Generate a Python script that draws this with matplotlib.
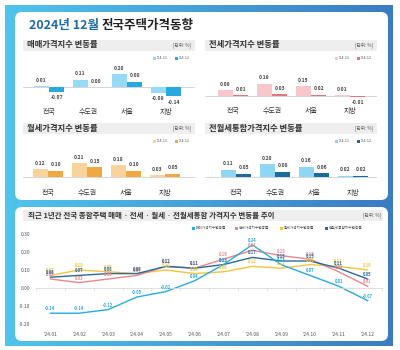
import numpy as np
import matplotlib
matplotlib.use('Agg')
import matplotlib.pyplot as plt
import matplotlib.transforms as mtransforms
from matplotlib.patches import FancyBboxPatch, Rectangle
from matplotlib.colors import LinearSegmentedColormap

plt.rcParams['font.family'] = ['Noto Sans CJK KR', 'DejaVu Sans']

# bar panels ('24.11 vs '24.12)
regions = ['전국', '수도권', '서울', '지방']
sale_nov = [0.01, 0.11, 0.20, -0.09]
sale_dec = [-0.07, 0.00, 0.08, -0.14]
jeonse_nov = [0.09, 0.19, 0.15, 0.01]
jeonse_dec = [0.01, 0.03, 0.02, -0.01]
rent_nov = [0.12, 0.21, 0.18, 0.03]
rent_dec = [0.10, 0.15, 0.10, 0.05]
total_nov = [0.11, 0.20, 0.16, 0.02]
total_dec = [0.05, 0.08, 0.06, 0.02]
legend_labels = ["'24.11", "'24.12"]

# trend chart
months = ["'24.01", "'24.02", "'24.03", "'24.04", "'24.05", "'24.06",
          "'24.07", "'24.08", "'24.09", "'24.10", "'24.11", "'24.12"]
sale_trend = [-0.14, -0.14, -0.12, -0.05, -0.02, 0.04, 0.13, 0.24, 0.13, 0.07, 0.01, -0.07]
jeonse_trend = [0.05, 0.03, 0.05, 0.07, 0.12, 0.11, 0.16, 0.21, 0.18, 0.16, 0.09, 0.01]
rent_trend = [0.07, 0.10, 0.09, 0.08, 0.10, 0.08, 0.09, 0.12, 0.11, 0.13, 0.12, 0.10]
total_trend = [0.06, 0.07, 0.08, 0.08, 0.12, 0.11, 0.13, 0.17, 0.15, 0.15, 0.11, 0.05]
trend_names = ['매매가격지수변동률', '전세가격지수변동률', '월세가격지수변동률', '전월세통합지수변동률']

W, H = 400, 350
fig = plt.figure(figsize=(4, 3.5), dpi=100)
fig.patch.set_facecolor('white')


def px_axes(x, y, w, h):
    return fig.add_axes([x / W, 1 - (y + h) / H, w / W, h / H])


# background layer in pixel coordinates
bg = fig.add_axes([0, 0, 1, 1])
cmap = LinearSegmentedColormap.from_list('frame', ['#50c4ec', '#3b7bc0'])
bg.imshow(np.linspace(0, 1, 256).reshape(1, -1), cmap=cmap,
          extent=[5, 393, 346, 5], aspect='auto')
bg.set_xlim(0, W)
bg.set_ylim(H, 0)
bg.axis('off')

for (x, y, w, h) in [(15, 12, 373, 188), (15, 207, 373, 134)]:
    bg.add_patch(FancyBboxPatch((x, y), w, h, boxstyle='round,pad=0,rounding_size=7',
                                fc='white', ec='none'))

for (x, y, w, h) in [(23, 40, 172, 11), (205, 40, 172, 11), (23, 123, 172, 11),
                     (205, 123, 172, 11), (23, 210, 360, 11)]:
    bg.add_patch(Rectangle((x, y), w, h, fc='#eeeeee', ec='none'))

# main title
t1 = bg.text(29, 25, '2024년 12월', fontsize=9, fontweight='bold', color='#1f6aa5',
             va='center', ha='left')
fig.canvas.draw()
bb = t1.get_window_extent().transformed(bg.transData.inverted())
bg.text(bb.x1 + 3, 25, '전국주택가격동향', fontsize=9, fontweight='bold',
        color='#222222', va='center', ha='left')


def bar_panel(x0, x1, title_y, base_y, c0, nov, dec, colors, title, label_y, leg_x):
    top, bottom = base_y - 30, base_y + 18
    ax = px_axes(x0, top, x1 - x0, bottom - top)
    scale = 65.0
    ax.set_ylim(-(bottom - base_y) / scale, (base_y - top) / scale)
    ax.set_xlim((x0 - c0) / 39.0, (x1 - c0) / 39.0)
    ax.axis('off')
    ax.axhline(0, color='#d0d0d0', lw=0.6, zorder=1)
    idx = np.arange(len(regions))
    for vals, off, col in [(nov, -0.2, colors[0]), (dec, 0.2, colors[1])]:
        ax.bar(idx + off, vals, width=0.38, color=col, zorder=2)
        for i, v in zip(idx, vals):
            ax.annotate(f'{v:.2f}', (i + off, v), xytext=(0, 2.5 if v >= 0 else -2.5),
                        textcoords='offset points', ha='center',
                        va='bottom' if v >= 0 else 'top', fontsize=3.6,
                        fontweight='bold', color='#444444')
    trans = mtransforms.blended_transform_factory(ax.transData, bg.transData)
    for i, r in zip(idx, regions):
        ax.text(i, label_y, r, transform=trans, ha='center', va='center',
                fontsize=5, color='#333333', clip_on=False)
    bg.text(x0 + 4, title_y, title, fontsize=6, fontweight='bold', color='#333333',
            va='center', ha='left')
    bg.text(x1 - 4, title_y, '[단위: %]', fontsize=3.3, color='#555555',
            va='center', ha='right')
    ly = title_y + 13
    for k in range(2):
        bg.add_patch(Rectangle((leg_x[k] - 5, ly - 1.5), 3, 3, fc=colors[k], ec='none'))
        bg.text(leg_x[k] - 1, ly, legend_labels[k], fontsize=2.8, color='#555555',
                va='center', ha='left')


bar_panel(23, 195, 45, 87, 49, sale_nov, sale_dec, ['#96daf6', '#29a8e0'],
          '매매가격지수 변동률', 112, [158, 180])
bar_panel(205, 377, 45, 96, 233, jeonse_nov, jeonse_dec, ['#f8c7cd', '#db7880'],
          '전세가격지수 변동률', 111, [340, 362])
bar_panel(23, 195, 128, 177, 48, rent_nov, rent_dec, ['#f9d39c', '#f0a843'],
          '월세가격지수 변동률', 193, [158, 180])
bar_panel(205, 377, 128, 177, 236, total_nov, total_dec, ['#8fd6f5', '#1d6a9c'],
          '전월세통합가격지수 변동률', 193, [340, 362])

# trend chart
bg.text(28, 215.5, '최근 1년간 전국 종합주택 매매 · 전세 · 월세 · 전월세통합 가격지수 변동률 추이',
        fontsize=5.4, fontweight='bold', color='#333333', va='center', ha='left')
bg.text(381, 215.5, '[단위: %]', fontsize=3.3, color='#555555', va='center', ha='right')

line_colors = ['#2aaadd', '#e8868e', '#f2c53d', '#2a6a9c']
for k, (name, lx) in enumerate(zip(trend_names, [196, 239, 284, 329])):
    bg.add_patch(Rectangle((lx - 4, 226.5), 3, 3, fc=line_colors[k], ec='none'))
    bg.text(lx, 228, name, fontsize=2.6, color='#555555', va='center', ha='left')

ax = px_axes(36, 234, 346, 90)
ax.set_ylim(-0.2, 0.3)
ax.set_xlim(-0.5, 11.48)
for s in ['top', 'right', 'left']:
    ax.spines[s].set_visible(False)
ax.spines['bottom'].set_position(('data', 0))
ax.spines['bottom'].set_color('#d9d9d9')
ax.spines['bottom'].set_linewidth(0.6)
ax.set_xticks([])
ax.set_xticks(np.arange(-0.5, 12, 1), minor=True)
ax.tick_params(axis='x', which='minor', length=2, color='#d9d9d9', width=0.5)
ax.set_yticks(np.arange(-0.2, 0.31, 0.1))
ax.set_yticklabels([f'{v:.2f}' for v in np.arange(-0.2, 0.31, 0.1)])
ax.tick_params(axis='y', length=0, pad=4, labelsize=3.6, labelcolor='#555555')

sec = ax.secondary_xaxis('bottom')
sec.set_xticks(range(len(months)), labels=months)
sec.tick_params(length=0, pad=6, labelsize=3.6, labelcolor='#555555')
sec.spines['bottom'].set_visible(False)

x = np.arange(len(months))
series = [rent_trend, jeonse_trend, total_trend, sale_trend]
cols = [line_colors[2], line_colors[1], line_colors[3], line_colors[0]]
for vals, col in zip(series, cols):
    ax.plot(x, vals, color=col, lw=1.0, clip_on=False)
    for i, v in zip(x, vals):
        ax.annotate(f'{v:.2f}', (i, v), xytext=(0, 1.5), textcoords='offset points',
                    ha='center', va='bottom', fontsize=3.0, color=col,
                    fontweight='bold', annotation_clip=False)

fig.savefig('out.png', dpi=100)
